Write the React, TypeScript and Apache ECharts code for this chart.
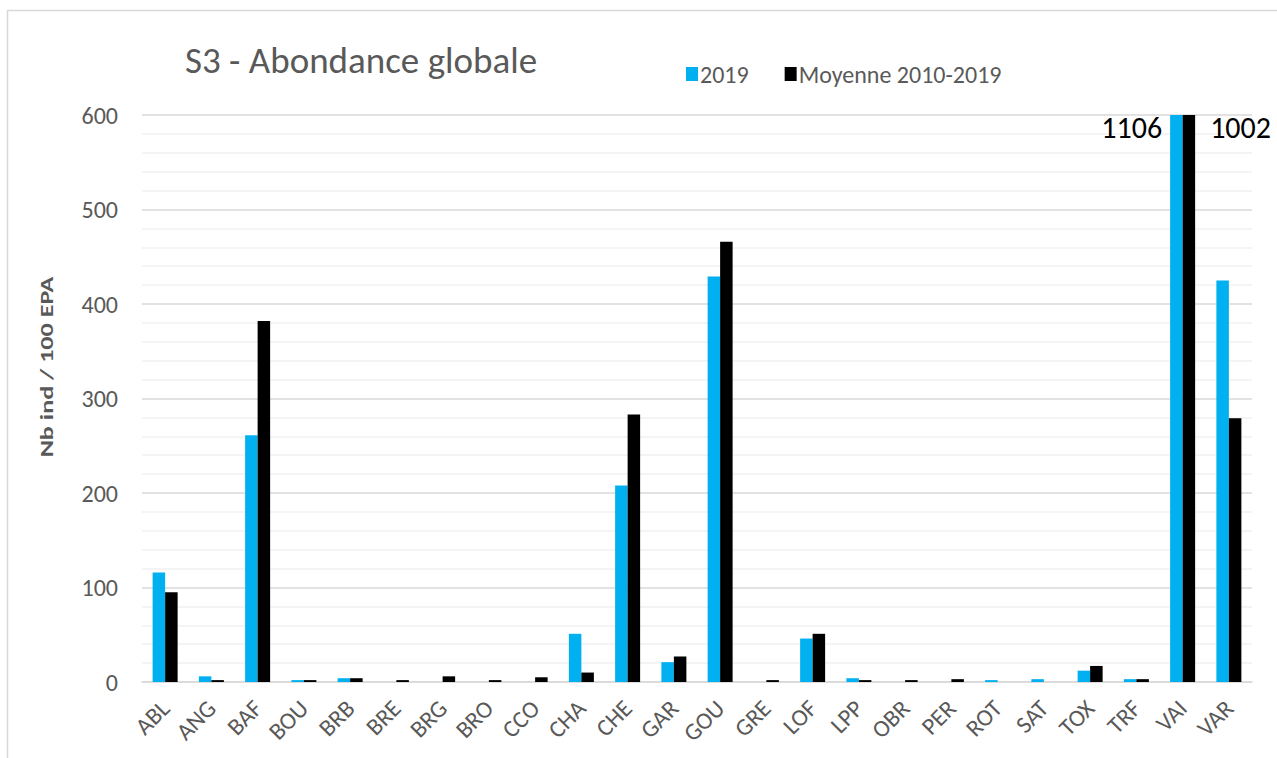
import React, { useEffect, useRef } from "react";
import * as echarts from "echarts";

const categories = [
  "ABL", "ANG", "BAF", "BOU", "BRB", "BRE", "BRG", "BRO", "CCO", "CHA", "CHE", "GAR",
  "GOU", "GRE", "LOF", "LPP", "OBR", "PER", "ROT", "SAT", "TOX", "TRF", "VAI", "VAR",
];
const values2019 = [116, 6, 261, 2, 4, 0, 0, 0, 0, 51, 208, 21, 429, 0, 46, 4, 0, 0, 2, 3, 12, 3, 1106, 425];
const valuesMean = [95, 2, 382, 2, 4, 2, 6, 2, 5, 10, 283, 27, 466, 2, 51, 2, 2, 3, 0, 0, 17, 3, 1002, 279];
const yTicks = [0, 100, 200, 300, 400, 500, 600];

const FONT = "Carlito, Lato, 'Open Sans', sans-serif";
const GREY = "#595959";
const BLUE = "#00B0F0";
const BLACK = "#000000";
const CLIP_MAX = yTicks[yTicks.length - 1];

// Bars taller than the axis are clipped; their value is written beside the bar top.
function withOverflowLabel(values: number[], side: "left" | "right") {
  return values.map((v) =>
    v > CLIP_MAX
      ? {
          value: v,
          label: {
            show: true,
            position: side === "left" ? [-8, -3] : ["100%", -3],
            offset: side === "left" ? [0, 0] : [15, 0],
            align: side === "left" ? "right" : "left",
            verticalAlign: "top",
            fontSize: 30,
            fontFamily: FONT,
            color: "#000000",
          },
        }
      : v
  );
}

export default function App() {
  const ref = useRef<HTMLDivElement>(null);

  useEffect(() => {
    if (!ref.current) return;
    const chart = echarts.init(ref.current, undefined, { renderer: "svg" });
    chart.setOption({
      animation: false,
      backgroundColor: "#ffffff",
      textStyle: { fontFamily: FONT },
      graphic: [
        {
          type: "rect",
          shape: { x: 7.5, y: 10.5, width: 1320, height: 800 },
          style: { fill: "none", stroke: "#d9d9d9", lineWidth: 1.5 },
          silent: true,
        },
        {
          type: "text",
          left: 185,
          top: 42,
          style: {
            text: "S3 - Abondance globale",
            fontSize: 37,
            fontFamily: FONT,
            fill: GREY,
          },
        },
        {
          // value-axis title, drawn vertically and stretched along its length
          type: "text",
          x: 47,
          y: 367,
          rotation: Math.PI / 2,
          scaleX: 1.45,
          style: {
            text: "Nb ind / 100 EPA",
            fontSize: 18,
            fontWeight: "bold",
            fontFamily: FONT,
            fill: GREY,
            align: "center",
            verticalAlign: "middle",
          },
        },
      ],
      legend: {
        left: 686,
        top: 62,
        padding: 0,
        icon: "rect",
        itemWidth: 12,
        itemHeight: 14,
        itemGap: 36,
        textStyle: { fontSize: 24, color: GREY, fontFamily: FONT, padding: [0, 0, 0, -3] },
        data: ["2019", "Moyenne 2010-2019"],
      },
      grid: { left: 142, right: 25, top: 115, bottom: 76, containLabel: false },
      xAxis: {
        type: "category",
        data: categories,
        axisTick: { show: false },
        axisLine: { lineStyle: { color: "#d9d9d9", width: 1.5 } },
        axisLabel: {
          rotate: 45,
          fontSize: 24,
          color: GREY,
          fontFamily: FONT,
          margin: 22,
          interval: 0,
        },
      },
      yAxis: {
        type: "value",
        min: yTicks[0],
        max: CLIP_MAX,
        interval: 100,
        axisLine: { show: false },
        axisTick: { show: false },
        axisLabel: { fontSize: 24, color: GREY, fontFamily: FONT, margin: 24 },
        splitLine: { lineStyle: { color: "#d9d9d9", width: 1.5 } },
        minorTick: { show: false, splitNumber: 5 },
        minorSplitLine: { show: true, lineStyle: { color: "#f0f0f0", width: 1.5 } },
      },
      series: [
        {
          name: "2019",
          type: "bar",
          data: withOverflowLabel(values2019, "left"),
          itemStyle: { color: BLUE },
          barWidth: 12.5,
          barGap: "0%",
          clip: true,
        },
        {
          name: "Moyenne 2010-2019",
          type: "bar",
          data: withOverflowLabel(valuesMean, "right"),
          itemStyle: { color: BLACK },
          barWidth: 12.5,
          barGap: "0%",
          clip: true,
        },
      ],
    });
    return () => chart.dispose();
  }, []);

  return (
    <div
      ref={ref}
      style={{ position: "fixed", left: 0, top: 0, width: 1277, height: 758 }}
    />
  );
}
